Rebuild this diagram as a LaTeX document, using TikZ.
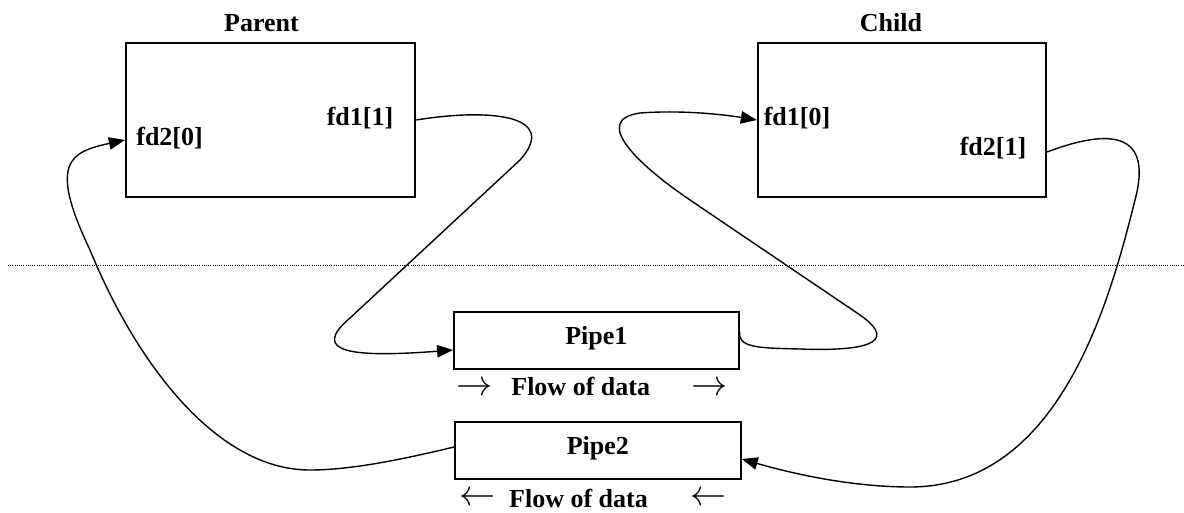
\documentclass[tikz,border=0pt]{standalone}
\usepackage{fontspec}
\setmainfont{Liberation Serif}
\usetikzlibrary{arrows.meta,calc}
\begin{document}
\begin{tikzpicture}[x=1pt,y=-1pt,
  box/.style={draw, line width=1.9pt, inner sep=0pt},
  lbl/.style={font=\fontsize{26}{30}\selectfont\bfseries, inner sep=0pt},
  flowarrow/.style={font=\fontsize{24.88}{25}\selectfont, inner sep=0pt, scale=1.45, transform shape},
  conn/.style={line width=1.4pt},
  tip/.style={-{Triangle[length=16pt,width=12.5pt]}}]
\useasboundingbox (0,0) rectangle (1184,512);
% boxes
\node[box, minimum width=289.6pt, minimum height=153.4pt] (parent) at (270.6,120) {};
\node[box, minimum width=288.3pt, minimum height=154pt] (child) at (901.9,120) {};
\node[box, minimum width=284.8pt, minimum height=57pt] (pipe1) at (596.4,340.5) {};
\node[box, minimum width=285.8pt, minimum height=57pt] (pipe2) at (597.9,450.5) {};
% labels
\node[lbl] (lparent) at (261.5,23) {Parent};
\node[lbl] (lchild) at (891,23) {Child};
\node[lbl] (fdonep) at (360,118) {fd1[1]};
\node[lbl] (fdtwop) at (169.6,138) {fd2[0]};
\node[lbl] (fdonec) at (797,118) {fd1[0]};
\node[lbl] (fdtwoc) at (993,148) {fd2[1]};
\node[lbl] (lpipe1) at ($(pipe1)+(0,-2)$) {Pipe1};
\node[lbl] (lpipe2) at ($(pipe2)+(0,-2)$) {Pipe2};
\node[lbl, anchor=base] (flow1) at (580.7,395) {Flow of data};
\node[lbl, anchor=base] (flow2) at (578.5,507) {Flow of data};
\node[flowarrow] (fa1) at (474.5,389) {$\rightarrow$};
\node[flowarrow] (fa2) at (710,389) {$\rightarrow$};
\node[flowarrow] (fa3) at (478,499) {$\leftarrow$};
\node[flowarrow] (fa4) at (709,499) {$\leftarrow$};
% separator
\draw[line width=1pt, dash pattern=on 1pt off 1.2pt] (8,265.5) -- (1184,265.5);
% connectors
\draw[conn,tip] (parent.east) .. controls (490,108) and (560,115) .. (520,160)
  -- (350,318) .. controls (310,352) and (350,358) .. ($(pipe1.west)+(0,9.5)$);
\draw[conn,tip] ($(pipe1.east)+(0,-9)$) .. controls (737,348) and (760,348) .. (800,349)
  .. controls (880,352) and (893,338) .. (860,315) -- (690,200)
  .. controls (640,166) and (590,120) .. (640,113)
  .. controls (680,110) and (720,114) .. (child.west);
\draw[conn,tip] ($(child.east)+(0,32)$) .. controls (1100,132) and (1155,125) .. (1135,200)
  .. controls (1110,300) and (1060,487) .. (910,487)
  .. controls (850,487) and (790,473) .. ($(pipe2.east)+(0,8.5)$);
\draw[conn,tip] ($(pipe2.west)+(0,-3.5)$) .. controls (400,460) and (350,470) .. (310,470)
  .. controls (215,470) and (135,360) .. (90,250)
  .. controls (48,162) and (70,152) .. ($(parent.west)+(0,20)$);
\end{tikzpicture}
\end{document}
